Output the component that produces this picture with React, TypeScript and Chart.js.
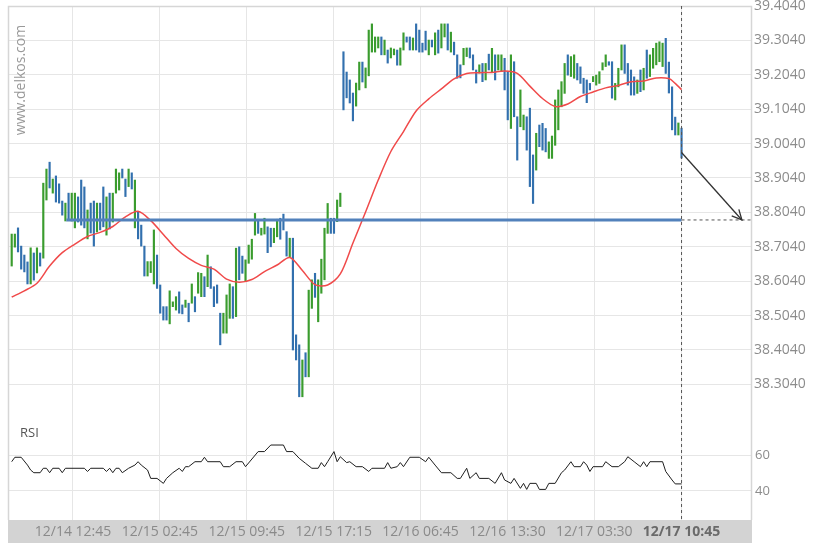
import { useEffect, useRef } from "react";
import { Chart, registerables } from "chart.js";

Chart.register(...registerables);

// ---- data ----
const timeLabels = ["12/14 12:45", "12/15 02:45", "12/15 09:45", "12/15 17:15", "12/16 06:45", "12/16 13:30", "12/17 03:30", "12/17 10:45"];
const labelIdx = [19.4, 46.9, 74.4, 101.9, 129.4, 156.9, 184.4, 212];
const priceTicks = [38.304, 38.404, 38.504, 38.604, 38.704, 38.804, 38.904, 39.004, 39.104, 39.204, 39.304, 39.404];
const rsiTicks = [40, 60];

const highs = [
  38.741, 38.741, 38.759, 38.706, 38.680, 38.660, 38.701, 38.686, 38.701, 38.686,
  38.889, 38.930, 38.950, 38.901, 38.910, 38.887, 38.837, 38.831, 38.860, 38.860,
  38.860, 38.849, 38.898, 38.878, 38.811, 38.831, 38.837, 38.831, 38.831, 38.878,
  38.849, 38.860, 38.860, 38.930, 38.919, 38.930, 38.901, 38.930, 38.919, 38.898,
  38.806, 38.767, 38.706, 38.661, 38.661, 38.753, 38.680, 38.593, 38.530, 38.530,
  38.576, 38.544, 38.559, 38.573, 38.535, 38.549, 38.540, 38.596, 38.559, 38.629,
  38.627, 38.617, 38.680, 38.646, 38.588, 38.593, 38.511, 38.511, 38.564, 38.596,
  38.588, 38.700, 38.704, 38.677, 38.666, 38.709, 38.726, 38.801, 38.782, 38.758,
  38.787, 38.762, 38.758, 38.758, 38.784, 38.787, 38.799, 38.748, 38.729, 38.729,
  38.448, 38.419, 38.375, 38.396, 38.578, 38.608, 38.627, 38.608, 38.668, 38.758,
  38.830, 38.787, 38.787, 38.840, 38.860, 39.271, 39.212, 39.189, 39.151, 39.180,
  39.241, 39.241, 39.224, 39.334, 39.352, 39.314, 39.314, 39.314, 39.305, 39.276,
  39.282, 39.279, 39.276, 39.282, 39.326, 39.314, 39.314, 39.311, 39.352, 39.334,
  39.296, 39.331, 39.305, 39.305, 39.326, 39.334, 39.352, 39.352, 39.352, 39.328,
  39.299, 39.262, 39.233, 39.281, 39.282, 39.282, 39.262, 39.218, 39.233, 39.237,
  39.237, 39.264, 39.281, 39.262, 39.262, 39.262, 39.252, 39.213, 39.262, 39.242,
  39.082, 39.160, 39.087, 39.082, 39.107, 38.971, 39.034, 39.058, 39.063, 39.048,
  39.009, 39.026, 39.131, 39.160, 39.184, 39.237, 39.262, 39.257, 39.262, 39.237,
  39.227, 39.194, 39.189, 39.179, 39.199, 39.203, 39.213, 39.239, 39.262, 39.242,
  39.242, 39.179, 39.223, 39.291, 39.291, 39.237, 39.218, 39.198, 39.189, 39.218,
  39.223, 39.276, 39.262, 39.281, 39.296, 39.300, 39.296, 39.310, 39.241, 39.169,
  39.081, 39.064, 39.049,
];

const lows = [
  38.648, 38.703, 38.689, 38.639, 38.631, 38.596, 38.596, 38.607, 38.628, 38.648,
  38.671, 38.840, 38.875, 38.860, 38.834, 38.831, 38.796, 38.779, 38.782, 38.779,
  38.759, 38.776, 38.767, 38.759, 38.727, 38.744, 38.706, 38.747, 38.753, 38.762,
  38.738, 38.756, 38.776, 38.860, 38.869, 38.904, 38.850, 38.879, 38.872, 38.759,
  38.727, 38.706, 38.619, 38.619, 38.629, 38.596, 38.583, 38.511, 38.491, 38.491,
  38.480, 38.530, 38.520, 38.511, 38.509, 38.528, 38.486, 38.540, 38.515, 38.569,
  38.559, 38.559, 38.588, 38.583, 38.530, 38.540, 38.419, 38.453, 38.453, 38.496,
  38.496, 38.501, 38.608, 38.627, 38.603, 38.656, 38.668, 38.738, 38.743, 38.738,
  38.741, 38.687, 38.704, 38.716, 38.733, 38.726, 38.753, 38.677, 38.675, 38.404,
  38.375, 38.268, 38.268, 38.326, 38.326, 38.525, 38.557, 38.486, 38.569, 38.608,
  38.743, 38.743, 38.743, 38.777, 38.821, 39.102, 39.137, 39.122, 39.070, 39.113,
  39.160, 39.183, 39.166, 39.201, 39.270, 39.270, 39.282, 39.262, 39.262, 39.238,
  39.253, 39.262, 39.232, 39.232, 39.276, 39.299, 39.276, 39.276, 39.276, 39.270,
  39.270, 39.276, 39.262, 39.285, 39.262, 39.267, 39.282, 39.314, 39.276, 39.270,
  39.262, 39.194, 39.195, 39.233, 39.257, 39.253, 39.218, 39.180, 39.209, 39.184,
  39.189, 39.218, 39.213, 39.189, 39.218, 39.213, 39.160, 39.073, 39.048, 39.082,
  38.956, 39.053, 39.044, 38.985, 38.879, 38.830, 38.927, 38.995, 38.985, 38.980,
  38.961, 38.961, 38.999, 39.044, 39.111, 39.150, 39.203, 39.199, 39.194, 39.189,
  39.179, 39.150, 39.123, 39.160, 39.184, 39.174, 39.179, 39.218, 39.228, 39.232,
  39.136, 39.131, 39.169, 39.218, 39.208, 39.174, 39.145, 39.145, 39.150, 39.155,
  39.160, 39.194, 39.199, 39.223, 39.233, 39.242, 39.228, 39.208, 39.151, 39.044,
  39.029, 39.029, 38.962,
];

// 1 = rising bar (green), 0 = falling bar (blue)
const up = [
  1, 1, 0, 0, 0, 0, 1, 0, 1, 0,
  1, 1, 0, 1, 0, 0, 0, 1, 0, 1,
  1, 0, 0, 0, 1, 0, 0, 1, 0, 0,
  1, 0, 1, 1, 1, 0, 0, 1, 0, 1,
  0, 0, 0, 1, 1, 1, 0, 0, 0, 0,
  1, 1, 1, 0, 0, 1, 0, 1, 0, 1,
  1, 0, 1, 0, 0, 0, 0, 1, 1, 1,
  0, 1, 0, 0, 1, 1, 1, 1, 0, 1,
  1, 0, 0, 1, 1, 0, 0, 0, 1, 0,
  0, 0, 1, 0, 1, 1, 0, 1, 1, 1,
  1, 0, 0, 1, 1, 0, 0, 0, 0, 1,
  1, 0, 1, 1, 1, 1, 1, 0, 1, 0,
  1, 1, 0, 1, 1, 0, 0, 1, 0, 0,
  0, 0, 1, 0, 1, 0, 1, 1, 0, 1,
  0, 0, 0, 1, 1, 0, 0, 0, 1, 0,
  1, 0, 1, 0, 1, 1, 0, 0, 1, 0,
  0, 1, 1, 0, 0, 0, 1, 0, 0, 0,
  1, 1, 1, 1, 1, 1, 0, 1, 1, 0,
  0, 0, 0, 0, 1, 1, 1, 1, 1, 0,
  0, 1, 1, 1, 0, 0, 0, 0, 1, 0,
  1, 0, 1, 1, 1, 1, 1, 0, 0, 0,
  0, 1, 0,
];

const maIdx = [0, 4, 8, 12, 16, 20, 24, 28, 32, 36, 40, 44, 48, 52, 56, 60, 64, 68, 72, 76, 80, 84, 88, 92, 96, 100, 104, 108, 112, 116, 120, 124, 128, 132, 136, 140, 144, 148, 152, 156, 160, 164, 168, 172, 176, 180, 184, 188, 192, 196, 200, 204, 208, 210, 212];
const maVal = [38.558, 38.576, 38.598, 38.648, 38.687, 38.712, 38.734, 38.746, 38.763, 38.791, 38.807, 38.780, 38.740, 38.699, 38.670, 38.650, 38.639, 38.610, 38.601, 38.609, 38.632, 38.651, 38.673, 38.635, 38.594, 38.593, 38.625, 38.715, 38.805, 38.898, 38.981, 39.039, 39.099, 39.134, 39.163, 39.192, 39.208, 39.210, 39.211, 39.215, 39.208, 39.171, 39.135, 39.112, 39.119, 39.141, 39.154, 39.166, 39.173, 39.184, 39.186, 39.195, 39.193, 39.179, 39.161];

const rsiIdx = [0, 1, 3, 5, 6, 7, 9, 10, 11, 12, 13, 15, 16, 17, 23, 24, 25, 29, 30, 31, 32, 33, 34, 35, 37, 39, 40, 41, 43, 44, 46, 48, 49, 51, 53, 54, 55, 56, 58, 60, 61, 62, 66, 67, 69, 71, 73, 74, 78, 80, 82, 86, 87, 89, 91, 93, 95, 97, 98, 99, 100, 102, 103, 104, 106, 107, 109, 111, 113, 114, 118, 119, 120, 122, 123, 124, 126, 129, 131, 132, 134, 136, 139, 141, 142, 144, 145, 147, 148, 151, 153, 155, 156, 158, 159, 161, 162, 163, 164, 166, 167, 169, 170, 172, 174, 175, 177, 178, 180, 181, 182, 183, 184, 187, 188, 190, 192, 194, 195, 197, 199, 200, 201, 202, 206, 207, 209, 210, 212];
const rsiVal = [56.5, 59, 59, 54.6, 51.8, 50.3, 50.3, 52.8, 52.8, 50.3, 52.8, 52.8, 50.3, 52.8, 52.8, 51, 52.8, 52.8, 51, 52.8, 50.3, 52.8, 52.8, 50.3, 52.8, 54.6, 56.5, 54.6, 51.8, 47.1, 47.1, 44.3, 47.1, 50.3, 52.8, 51, 53.7, 53.7, 56.5, 56.5, 59, 56.5, 56.5, 53.7, 53.7, 56.5, 56.5, 53.7, 62.2, 62.2, 65.9, 65.9, 62.2, 62.2, 58.4, 55.6, 52.8, 52.8, 56, 53.7, 56.5, 62.2, 56.5, 59.3, 56, 56.5, 53.7, 53.7, 51, 52.8, 52.8, 56, 52.8, 53.7, 56, 53.7, 59, 59, 56.5, 59, 54.6, 50.3, 50.3, 47.1, 47.1, 52.8, 47.1, 50.3, 47.1, 47.1, 44.3, 50.3, 46.2, 44.3, 47.1, 41.5, 44.3, 40.9, 44.3, 44.3, 40.9, 40.9, 44.3, 44.3, 50.3, 51.8, 56.5, 53.7, 53.7, 56.5, 54.6, 51, 53.7, 53.7, 56.5, 53.7, 53.7, 56.5, 59.3, 56.5, 53.7, 56.5, 53.7, 56.5, 56.5, 51, 46.2, 44, 44];

const levelPrice = 38.782;
const levelFromIdx = 17.3;
const lastIdx = 212;
const lastPrice = 38.978;
const targetIdx = 231.1;

// ---- layout (axis ranges) ----
const X_MIN = -1.17;
const X_MAX = 234.3;
const P_MIN = 37.9098;
const P_MAX = 39.404;
const R_MIN = 23.66;
const R_MAX = 313.24;

const GREEN = "#3a9c2e";
const BLUE = "#3270ae";
const FONT = "'Open Sans', sans-serif";

const decorPlugin = {
  id: "decor",
  beforeDraw(chart: any) {
    const { ctx, chartArea: a } = chart;
    ctx.save();
    ctx.fillStyle = "#d3d3d3";
    ctx.fillRect(a.left, a.bottom, a.right - a.left, 23);
    ctx.restore();
  },
  beforeDatasetsDraw(chart: any) {
    const { ctx, chartArea: a } = chart;
    ctx.save();
    ctx.strokeStyle = "#d6d6d6";
    ctx.lineWidth = 1.5;
    ctx.beginPath();
    ctx.moveTo(a.left + 0.5, a.bottom);
    ctx.lineTo(a.left + 0.5, a.top + 0.5);
    ctx.lineTo(a.right - 0.5, a.top + 0.5);
    ctx.lineTo(a.right - 0.5, a.bottom);
    ctx.stroke();
    // watermark
    ctx.fillStyle = "#999999";
    ctx.font = `14px ${FONT}`;
    ctx.textAlign = "center";
    ctx.textBaseline = "middle";
    ctx.translate(a.left + 13, a.top + 74);
    ctx.rotate(-Math.PI / 2);
    ctx.fillText("www.delkos.com", 0, 0);
    ctx.restore();
    // RSI title
    ctx.save();
    ctx.fillStyle = "#555555";
    ctx.font = `13px ${FONT}`;
    ctx.textAlign = "left";
    ctx.textBaseline = "middle";
    ctx.fillText("RSI", a.left + 12, 433);
    ctx.restore();
  },
  afterDatasetsDraw(chart: any) {
    const { ctx, chartArea: a, scales } = chart;
    const xs = scales.x;
    const ys = scales.y;
    const rs = scales.rsi;
    // arrow head
    const x1 = xs.getPixelForValue(lastIdx);
    const y1 = ys.getPixelForValue(lastPrice);
    const x2 = xs.getPixelForValue(targetIdx);
    const y2 = ys.getPixelForValue(levelPrice);
    const ang = Math.atan2(y2 - y1, x2 - x1);
    const len = 11;
    ctx.save();
    ctx.strokeStyle = "#333333";
    ctx.lineWidth = 1.3;
    ctx.beginPath();
    ctx.moveTo(x2 - len * Math.cos(ang - 0.45), y2 - len * Math.sin(ang - 0.45));
    ctx.lineTo(x2, y2);
    ctx.lineTo(x2 - len * Math.cos(ang + 0.45), y2 - len * Math.sin(ang + 0.45));
    ctx.stroke();
    ctx.restore();
    // RSI tick labels
    ctx.save();
    ctx.fillStyle = "#8c8c8c";
    ctx.font = `13px ${FONT}`;
    ctx.textAlign = "left";
    ctx.textBaseline = "middle";
    rsiTicks.forEach((v) => {
      ctx.fillText(String(v), a.right + 3, rs.getPixelForValue(v));
    });
    ctx.restore();
  },
};

export default function App() {
  const ref = useRef<HTMLCanvasElement>(null);

  useEffect(() => {
    if (!ref.current) return;
    const barData = highs.map((h, i) => ({ x: i, y: [lows[i], h] }));
    const chart = new Chart(ref.current, {
      type: "bar",
      data: {
        datasets: [
          {
            type: "line",
            data: [
              { x: lastIdx, y: lastPrice },
              { x: targetIdx, y: levelPrice },
            ],
            borderColor: "#333333",
            borderWidth: 1.3,
            pointRadius: 0,
            xAxisID: "x",
            yAxisID: "y",
            order: 0,
          },
          {
            type: "line",
            data: [
              { x: lastIdx, y: P_MAX },
              { x: lastIdx, y: P_MIN },
            ],
            borderColor: "#555555",
            borderWidth: 1,
            borderDash: [3, 3],
            pointRadius: 0,
            xAxisID: "x",
            yAxisID: "y",
            order: 1,
          },
          {
            type: "line",
            data: [
              { x: lastIdx, y: levelPrice },
              { x: X_MAX, y: levelPrice },
            ],
            borderColor: "#555555",
            borderWidth: 1,
            borderDash: [3, 3],
            pointRadius: 0,
            xAxisID: "x",
            yAxisID: "y",
            order: 1,
          },
          {
            type: "line",
            data: [
              { x: levelFromIdx, y: levelPrice },
              { x: lastIdx, y: levelPrice },
            ],
            borderColor: "#5281bb",
            borderWidth: 3,
            pointRadius: 0,
            xAxisID: "x",
            yAxisID: "y",
            order: 2,
          },
          {
            type: "line",
            data: maIdx.map((x, i) => ({ x, y: maVal[i] })),
            borderColor: "#f04a4a",
            borderWidth: 1.5,
            pointRadius: 0,
            tension: 0.3,
            xAxisID: "x",
            yAxisID: "y",
            order: 3,
          },
          {
            type: "line",
            data: rsiIdx.map((x, i) => ({ x, y: rsiVal[i] })),
            borderColor: "#1e1e1e",
            borderWidth: 1,
            pointRadius: 0,
            tension: 0,
            xAxisID: "x",
            yAxisID: "rsi",
            order: 3,
          },
          {
            type: "bar",
            data: barData as any,
            backgroundColor: up.map((u) => (u ? GREEN : BLUE)),
            barThickness: 1.5,
            grouped: false,
            borderWidth: 0,
            xAxisID: "x",
            yAxisID: "y",
            order: 5,
          },
        ] as any,
      },
      options: {
        animation: false,
        responsive: false,
        events: [],
        layout: { padding: { left: 8, top: 6, right: 0, bottom: 5 } },
        plugins: {
          legend: { display: false },
          tooltip: { enabled: false },
        },
        scales: {
          x: {
            type: "linear",
            position: "bottom",
            min: X_MIN,
            max: X_MAX,
            offset: false,
            grid: { color: "#e6e6e6", drawTicks: false, offset: false },
            border: { display: false },
            afterBuildTicks: (s: any) => {
              s.ticks = labelIdx.map((v) => ({ value: v }));
            },
            afterFit: (s: any) => {
              s.height = 23;
              s.paddingLeft = 0;
              s.paddingRight = 0;
            },
            ticks: {
              autoSkip: false,
              maxRotation: 0,
              minRotation: 0,
              padding: 4,
              color: (c: any) => (c.index === timeLabels.length - 1 ? "#6a6a6a" : "#8a8a8a"),
              font: (c: any) => ({
                family: FONT,
                size: 14,
                weight: c.index === timeLabels.length - 1 ? "bold" : "normal",
              }),
              callback: (_v: any, i: number) => timeLabels[i],
            },
          },
          y: {
            type: "linear",
            position: "right",
            min: P_MIN,
            max: P_MAX,
            grid: { color: "#e6e6e6", drawTicks: false },
            border: { display: false },
            afterBuildTicks: (s: any) => {
              s.ticks = priceTicks.map((v) => ({ value: v }));
            },
            afterFit: (s: any) => {
              s.width = 70;
              s.paddingTop = 0;
              s.paddingBottom = 0;
            },
            ticks: {
              padding: 2,
              color: "#8c8c8c",
              font: { family: FONT, size: 14 },
              callback: (v: any) => Number(v).toFixed(4),
            },
          },
          rsi: {
            type: "linear",
            position: "right",
            min: R_MIN,
            max: R_MAX,
            grid: { color: "#e6e6e6", drawTicks: false },
            border: { display: false },
            afterBuildTicks: (s: any) => {
              s.ticks = rsiTicks.map((v) => ({ value: v }));
            },
            afterFit: (s: any) => {
              s.width = 0;
              s.paddingTop = 0;
              s.paddingBottom = 0;
            },
            ticks: { display: false },
          },
        },
      } as any,
      plugins: [decorPlugin],
    });
    return () => chart.destroy();
  }, []);

  return (
    <div style={{ position: "fixed", left: 0, top: 0, width: 822, height: 548, background: "#ffffff" }}>
      <canvas ref={ref} width={822} height={548} style={{ display: "block", width: 822, height: 548 }} />
    </div>
  );
}
